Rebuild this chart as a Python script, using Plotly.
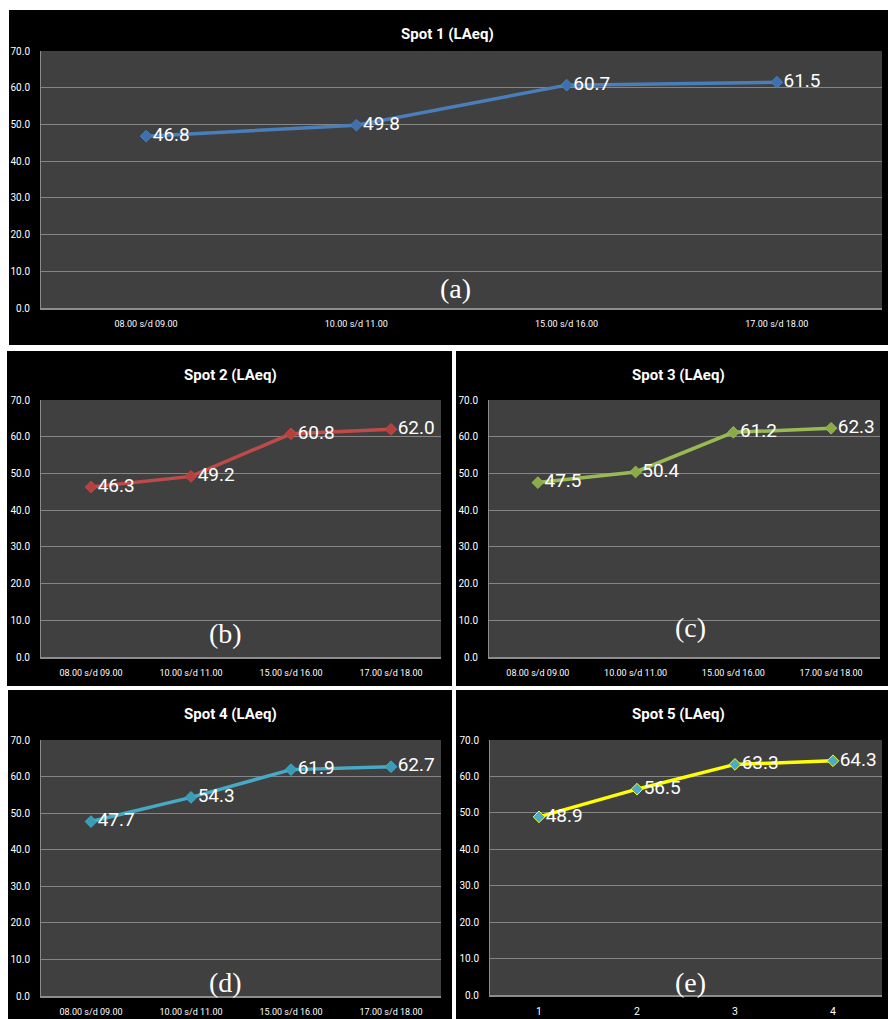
import plotly.graph_objects as go

# Sound level measurements (LAeq, dB) at five spots over four time windows
time_windows = ["08.00 s/d 09.00", "10.00 s/d 11.00", "15.00 s/d 16.00", "17.00 s/d 18.00"]
spot5_categories = ["1", "2", "3", "4"]

spot1 = [46.8, 49.8, 60.7, 61.5]
spot2 = [46.3, 49.2, 60.8, 62.0]
spot3 = [47.5, 50.4, 61.2, 62.3]
spot4 = [47.7, 54.3, 61.9, 62.7]
spot5 = [48.9, 56.5, 63.3, 64.3]

titles = ["Spot 1 (LAeq)", "Spot 2 (LAeq)", "Spot 3 (LAeq)", "Spot 4 (LAeq)", "Spot 5 (LAeq)"]
panel_tags = ["(a)", "(b)", "(c)", "(d)", "(e)"]

W, H = 888, 1019


def px(x):
    return x / W


def py(y):
    return 1 - y / H


SANS = "Roboto, Lato, sans-serif"
PLOT_BG = "#404040"

# panel geometry in pixels: black card, plot area, title centre, tag centre
panels = [
    dict(card=(9, 10, 888, 345), plot=(41, 51, 882, 308), title=(448, 34), tag=(455, 288)),
    dict(card=(7, 351, 452, 686), plot=(41, 400, 441, 657), title=(230, 375), tag=(225, 633)),
    dict(card=(456, 351, 888, 686), plot=(489, 400, 880, 657), title=(678, 375), tag=(690, 627)),
    dict(card=(8, 690, 452, 1019), plot=(41, 740, 441, 996), title=(230, 714), tag=(225, 982)),
    dict(card=(456, 690, 888, 1019), plot=(490, 740, 882, 995), title=(678, 714), tag=(690, 982)),
]

series = [
    (time_windows, spot1, "#4a7ebb", "#3f6fae"),
    (time_windows, spot2, "#be4b48", "#b5403d"),
    (time_windows, spot3, "#98b954", "#8aab46"),
    (time_windows, spot4, "#46aac5", "#3b9cb8"),
    (spot5_categories, spot5, "#ffff00", "#4bacc6"),
]

fig = go.Figure()
card_shapes = []
plot_shapes = []
annotations = []
layout_axes = {}

for i, (p, (cats, vals, line_c, mark_c)) in enumerate(zip(panels, series)):
    n = "" if i == 0 else str(i + 1)
    xa, ya = "x" + n, "y" + n

    fig.add_trace(go.Scatter(
        x=cats, y=vals, xaxis=xa, yaxis=ya,
        mode="lines+markers+text",
        line=dict(color=line_c, width=3.5),
        marker=dict(symbol="diamond", size=9, color=mark_c,
                    line=dict(color=line_c, width=1)),
        text=[f"{v:.1f}" for v in vals],
        textposition="middle right",
        textfont=dict(family=SANS, size=19, color="#ffffff"),
        cliponaxis=False,
        showlegend=False,
        hoverinfo="skip",
    ))

    x0, y0, x1, y1 = p["card"]
    card_shapes.append(dict(type="rect", xref="paper", yref="paper",
                            x0=px(x0), x1=px(x1), y0=py(y1), y1=py(y0),
                            fillcolor="#000000", line=dict(width=0), layer="below"))

    lx0, ly0, lx1, ly1 = p["plot"]
    plot_shapes.append(dict(type="rect", xref="paper", yref="paper",
                            x0=px(lx0), x1=px(lx1), y0=py(ly1), y1=py(ly0),
                            fillcolor=PLOT_BG, line=dict(width=0), layer="below"))

    layout_axes["xaxis" + n] = dict(
        domain=[px(lx0), px(lx1)], anchor=ya,
        type="category", range=[-0.5, 3.5],
        showgrid=False, zeroline=False,
        showline=True, linecolor="#8c8c8c", linewidth=1.5,
        ticks="", ticklabelstandoff=6, automargin=False,
        tickfont=dict(family=SANS, size=9 if i < 4 else 10.5, color="#ffffff"),
        fixedrange=True,
    )
    layout_axes["yaxis" + n] = dict(
        domain=[py(ly1), py(ly0)], anchor=xa,
        range=[0, 70], dtick=10, tickformat=".1f",
        showgrid=True, gridcolor="#858585", gridwidth=1,
        zeroline=False,
        showline=True, linecolor="#8c8c8c", linewidth=1,
        ticks="", ticklabelstandoff=8, automargin=False,
        tickfont=dict(family=SANS, size=10, color="#ffffff"),
        fixedrange=True,
    )

    tx, ty = p["title"]
    annotations.append(dict(
        text=f"<b>{titles[i]}</b>", xref="paper", yref="paper",
        x=px(tx), y=py(ty), xanchor="center", yanchor="middle",
        showarrow=False,
        font=dict(family=SANS, size=15, color="#ffffff"),
    ))
    gx, gy = p["tag"]
    annotations.append(dict(
        text=panel_tags[i], xref="paper", yref="paper",
        x=px(gx), y=py(gy), xanchor="center", yanchor="middle",
        showarrow=False,
        font=dict(family="Liberation Serif, DejaVu Serif, serif", size=28, color="#ffffff"),
    ))

fig.update_layout(
    width=W, height=H,
    margin=dict(l=0, r=0, t=0, b=0, autoexpand=False),
    paper_bgcolor="#ffffff",
    plot_bgcolor=PLOT_BG,
    shapes=card_shapes + plot_shapes,
    annotations=annotations,
    **layout_axes,
)

fig.write_html("out.html")
